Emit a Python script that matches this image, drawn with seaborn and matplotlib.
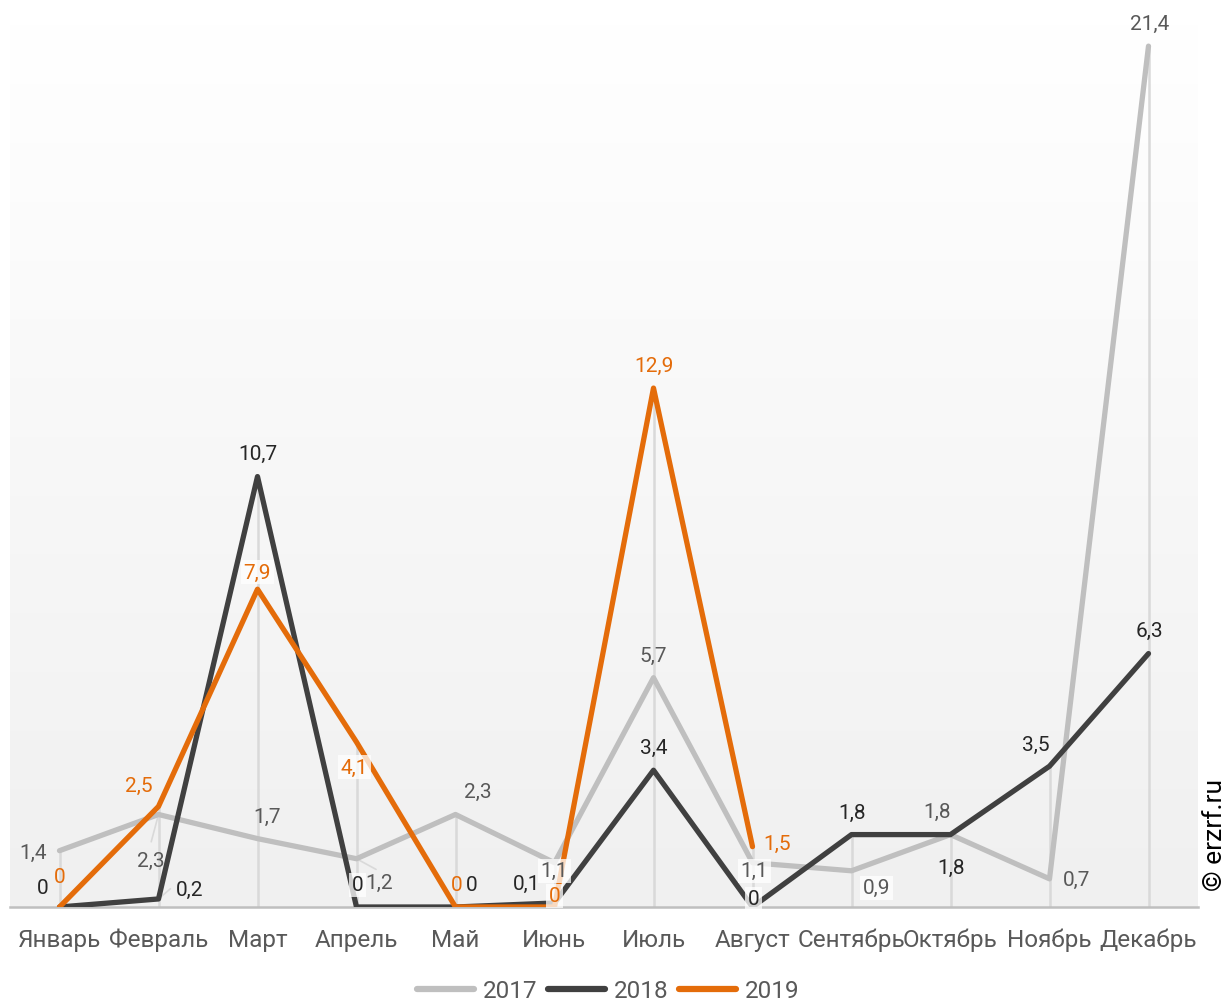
import numpy as np
import pandas as pd
import matplotlib
matplotlib.use("Agg")
import matplotlib.pyplot as plt
from matplotlib.lines import Line2D
import seaborn as sns

# Data
months = ['Январь', 'Февраль', 'Март', 'Апрель', 'Май', 'Июнь',
          'Июль', 'Август', 'Сентябрь', 'Октябрь', 'Ноябрь', 'Декабрь']
values_2017 = [1.4, 2.3, 1.7, 1.2, 2.3, 1.1, 5.7, 1.1, 0.9, 1.8, 0.7, 21.4]
values_2018 = [0, 0.2, 10.7, 0, 0, 0.1, 3.4, 0, 1.8, 1.8, 3.5, 6.3]
values_2019 = [0, 2.5, 7.9, 4.1, 0, 0, 12.9, 1.5]
years = ['2017', '2018', '2019']

colors = {'2017': '#bfbfbf', '2018': '#404040', '2019': '#e46c0a'}
label_colors = {'2017': '#595959', '2018': '#262626', '2019': '#e46c0a'}

# label offsets in pixels (dx right, dy down) and whether label has a white box
label_pos = {
    '2017': [(-26, 2, 0), (-8, 46, 0), (10, -22, 0), (23, 24, 0), (22, -23, 0), (0, 8, 1),
             (0, -22, 0), (2, 8, 1), (25, 17, 1), (-13, -23, 0), (27, 1, 0), (1, -23, 0)],
    '2018': [(-17, -19, 0), (31, -10, 0), (0, -23, 0), (1, -22, 1), (16, -22, 0), (-28, -20, 0),
             (0, -23, 0), (1, -8, 1), (1, -22, 0), (1, 33, 0), (-14, -22, 0), (1, -23, 0)],
    '2019': [(0, -30, 0), (-20, -21, 0), (0, -17, 1), (-2, 25, 1), (1, -22, 0), (0, -11, 1),
             (0, -23, 0), (25, -3, 0)],
}

rows = []
for year, vals in zip(years, [values_2017, values_2018, values_2019]):
    for i, v in enumerate(vals):
        rows.append({'month': i, 'value': v, 'year': year})
df = pd.DataFrame(rows)

sns.set_theme(style="white")
plt.rcParams['font.family'] = ['Roboto', 'DejaVu Sans']

fig = plt.figure(figsize=(12.26, 10.03), dpi=100)
ax = fig.add_axes([10 / 1226, 95 / 1003, 1188 / 1226, 885 / 1003])

ymax = 22.0
# background gradient: light grey at the bottom, white at the top
grad = np.linspace(0.0, 1.0, 256).reshape(-1, 1)
ax.imshow(grad, extent=(-0.5, 11.5, 0, ymax), aspect='auto', origin='lower',
          cmap=matplotlib.colors.LinearSegmentedColormap.from_list('bg', ['#f0f0f0', '#ffffff']),
          zorder=0)

# drop lines from highest point to axis
all_vals = [values_2017, values_2018, values_2019]
for i in range(len(months)):
    top = max(v[i] for v in all_vals if i < len(v))
    ax.plot([i, i], [0, top], color='#d9d9d9', lw=1.8, zorder=1)

sns.lineplot(data=df, x='month', y='value', hue='year', palette=colors, ax=ax,
             linewidth=3.8, legend=False, zorder=3,
             solid_capstyle='round', solid_joinstyle='round')

# data labels
for year, vals in zip(years, [values_2017, values_2018, values_2019]):
    for i, v in enumerate(vals):
        dx, dy, boxed = label_pos[year][i]
        txt = f"{v:g}".replace('.', ',')
        bbox = dict(boxstyle='square,pad=0.12', fc='white', ec='none', alpha=0.75) if boxed else None
        ax.annotate(txt, (i, v), xytext=(dx, -dy), textcoords='offset pixels',
                    ha='center', va='center', fontsize=15, color=label_colors[year],
                    bbox=bbox, zorder=5)

# leader lines
ax.annotate('', (1, 2.3), xytext=(-8, -30), textcoords='offset pixels',
            arrowprops=dict(arrowstyle='-', color='#d9d9d9', lw=1.2), zorder=2)
ax.annotate('', (3, 1.2), xytext=(22, -12), textcoords='offset pixels',
            arrowprops=dict(arrowstyle='-', color='#d9d9d9', lw=1.2), zorder=2)
ax.annotate('', (1, 0.2), xytext=(14, 12), textcoords='offset pixels',
            arrowprops=dict(arrowstyle='-', color='#d9d9d9', lw=1.2), zorder=2)

ax.set_xlim(-0.5, 11.5)
ax.set_ylim(0, ymax)
ax.set_xticks(range(len(months)))
ax.set_xticklabels(months, fontsize=17.5, color='#595959')
ax.set_xticks(np.arange(-0.5, 12, 1), minor=True)
ax.tick_params(axis='x', which='major', length=0, pad=15)
ax.tick_params(axis='x', which='minor', length=8, width=1.5, color='#bfbfbf', direction='out')
ax.set_yticks([])
ax.set_xlabel('')
ax.set_ylabel('')
for side in ['top', 'left', 'right']:
    ax.spines[side].set_visible(False)
ax.spines['bottom'].set_color('#bfbfbf')
ax.spines['bottom'].set_linewidth(1.8)

handles = [Line2D([0], [0], color=colors[y], lw=4.5, solid_capstyle='round') for y in years]
fig.legend(handles, years, loc='center', bbox_to_anchor=(0.496, 0.011), ncol=3,
           frameon=False, fontsize=17.5, handlelength=2.35, handletextpad=0.35,
           columnspacing=0.45, labelcolor='#595959')

fig.text(1215 / 1226, 1 - 835 / 1003, '© erzrf.ru', rotation=90, ha='center', va='center',
         fontsize=19, color='#000000')

fig.savefig('out.png', dpi=100, facecolor='white')
